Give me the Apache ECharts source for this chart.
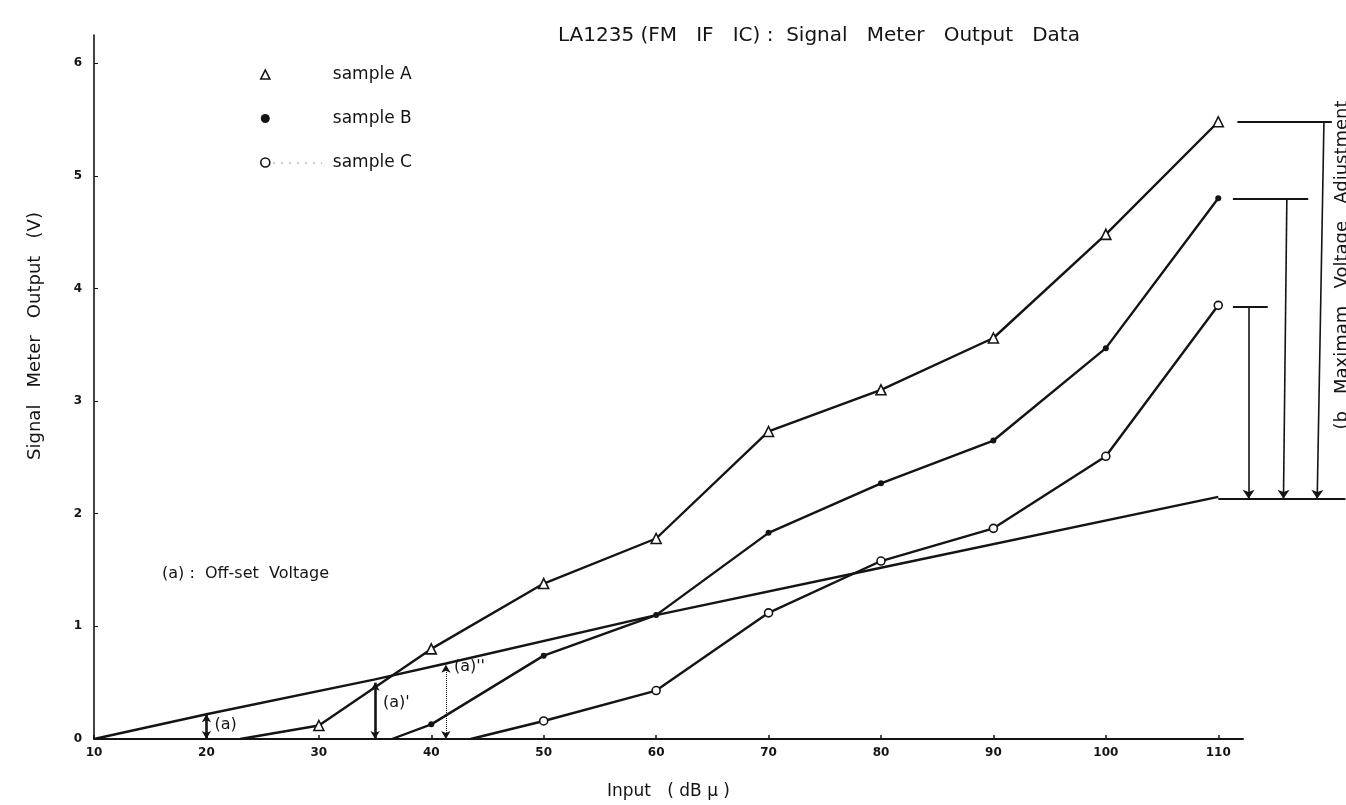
<!DOCTYPE html>
<html>
<head>
<meta charset="utf-8">
<script src="https://cdn.jsdelivr.net/npm/echarts@6/dist/echarts.min.js"></script>
<style>
  html, body { margin: 0; padding: 0; background: #fff; }
  #chart { width: 1346px; height: 805px; }
</style>
</head>
<body>
<div id="chart"></div>
<script>
// values: [input dBu, output V]
const sampleA = [[23, 0], [30, 0.12], [40, 0.8], [50, 1.38], [60, 1.78], [70, 2.73], [80, 3.1], [90, 3.56], [100, 4.48], [110, 5.48]];
const sampleB = [[36.5, 0], [40, 0.13], [50, 0.74], [60, 1.1], [70, 1.83], [80, 2.27], [90, 2.65], [100, 3.47], [110, 4.8]];
const sampleC = [[43.5, 0], [50, 0.16], [60, 0.43], [70, 1.12], [80, 1.58], [90, 1.87], [100, 2.51], [110, 3.85]];
const offsetLine = [[10, 0], [20, 0.22], [35, 0.53], [41.3, 0.67], [60, 1.1], [80, 1.52], [110, 2.15]];

// (a) arrows: x and top value, and where the label sits (fraction of height)
const offsetArrows = [[20, 0.22], [35, 0.5], [41.3, 0.66]];
const offsetNames = ['(a)', "(a)'", "(a)''"];
const offsetLabelAt = [0.5, 0.6, 0.95];

// (b) brackets: [bracket start x, bracket end x, arrow x top, arrow x bottom, level]
const maxBrackets = [
  [111.7, 120.1, 119.4, 118.8, 5.48],
  [111.3, 118.0, 116.1, 115.8, 4.8],
  [111.3, 114.4, 112.7, 112.7, 3.85]
];
const adjustLevel = 2.15;

const xTicks = { min: 10, max: 112.2, interval: 10 };
const yTicks = { min: 0, max: 6.25, interval: 1 };

const W = 1346, gridLeft = 94, gridRight = 103;
// a second, invisible x axis with the same scale that runs to the page edge,
// so the (b) brackets right of the plotted axis can be drawn in data units
const pxPerUnit = (W - gridLeft - gridRight) / (xTicks.max - xTicks.min);
const wideMax = xTicks.min + (W - gridLeft) / pxPerUnit;
const adjustLineEnd = wideMax - 0.05;

const ink = '#141414';
const font = 'DejaVu Sans';
const chart = echarts.init(document.getElementById('chart'));

function withStart(arr) {
  // first point is where the curve leaves zero, no marker there
  return arr.map((p, i) => i === 0 ? { value: p, symbol: 'none' } : p);
}

const hollow = { color: '#fff', borderColor: ink, borderWidth: 1.6 };

const option = {
  animation: false,
  backgroundColor: '#fff',
  textStyle: { fontFamily: font, color: ink },
  title: {
    text: 'LA1235 (FM   IF   IC) :  Signal   Meter   Output   Data',
    left: 553, top: 21,
    textStyle: { fontSize: 20, fontWeight: 'normal', color: ink, fontFamily: font }
  },
  legend: {
    orient: 'vertical', left: 255, top: 61,
    itemWidth: 9, itemHeight: 9, itemGap: 27,
    selectedMode: false,
    textStyle: { fontSize: 17, color: ink, padding: [0, 0, 0, 58] },
    data: [
      { name: 'sample A', icon: 'triangle', itemStyle: hollow },
      { name: 'sample B', icon: 'circle', itemStyle: { color: ink, borderWidth: 0 } },
      { name: 'sample C', icon: 'circle', itemStyle: hollow }
    ]
  },
  grid: [
    { left: gridLeft, right: gridRight, top: 35, bottom: 63 },
    { left: gridLeft, right: 0, top: 35, bottom: 63 }
  ],
  xAxis: [
    {
      type: 'value', gridIndex: 0, min: xTicks.min, max: xTicks.max, interval: xTicks.interval,
      name: 'Input   ( dB μ )', nameLocation: 'middle', nameGap: 44,
      nameTextStyle: { fontSize: 17, color: ink },
      axisLine: { lineStyle: { color: ink, width: 2 } },
      axisTick: { inside: true, length: 4, lineStyle: { color: ink, width: 1.5 } },
      axisLabel: { color: ink, fontSize: 12, fontWeight: 'bold', margin: 8, showMaxLabel: false },
      splitLine: { show: false }
    },
    { type: 'value', gridIndex: 1, min: xTicks.min, max: wideMax, show: false }
  ],
  yAxis: [
    {
      type: 'value', gridIndex: 0, min: yTicks.min, max: yTicks.max, interval: yTicks.interval,
      axisLine: { show: true, lineStyle: { color: ink, width: 1.6 } },
      axisTick: { show: true, inside: true, length: 4, lineStyle: { color: ink } },
      axisLabel: { color: ink, fontSize: 12, fontWeight: 'bold', margin: 12, showMaxLabel: false },
      splitLine: { show: false }
    },
    { type: 'value', gridIndex: 1, min: yTicks.min, max: yTicks.max, show: false }
  ],
  series: [
    {
      name: 'sample A', type: 'line', data: withStart(sampleA),
      symbol: 'triangle', symbolSize: 10, showAllSymbol: true,
      lineStyle: { color: ink, width: 2.4 }, itemStyle: hollow, z: 5
    },
    {
      name: 'sample B', type: 'line', data: withStart(sampleB),
      symbol: 'circle', symbolSize: 6,
      lineStyle: { color: ink, width: 2.4 }, itemStyle: { color: ink }, z: 5
    },
    {
      name: 'sample C', type: 'line', data: withStart(sampleC),
      symbol: 'circle', symbolSize: 8,
      lineStyle: { color: ink, width: 2.4 }, itemStyle: hollow, z: 5
    },
    {
      name: 'offset', type: 'line', data: offsetLine, symbol: 'none',
      lineStyle: { color: ink, width: 2.4 }, z: 4
    },
    {
      // (a) arrows
      name: 'offsetArrows', type: 'line', data: [],
      markLine: {
        silent: true, symbol: ['arrow', 'arrow'], symbolSize: [7, 8],
        label: { show: false },
        data: offsetArrows.map((p, i) => [
          { coord: [p[0], 0], lineStyle: { color: ink, width: i === 2 ? 1 : 2.6, type: i === 2 ? 'dotted' : 'solid' } },
          { coord: [p[0], p[1]] }
        ])
      }
    },
    {
      // (b) brackets and the horizontal adjust level
      name: 'brackets', type: 'line', data: [], xAxisIndex: 1, yAxisIndex: 1,
      markLine: {
        silent: true, symbol: ['none', 'none'],
        label: { show: false },
        lineStyle: { color: ink, width: 1.8, type: 'solid' },
        data: maxBrackets.map(b => [{ coord: [b[0], b[4]] }, { coord: [b[1], b[4]] }])
          .concat([[{ coord: [110, adjustLevel] }, { coord: [adjustLineEnd, adjustLevel] }]])
      }
    },
    {
      name: 'maxArrows', type: 'line', data: [], xAxisIndex: 1, yAxisIndex: 1,
      markLine: {
        silent: true, symbol: ['none', 'arrow'], symbolSize: 9,
        label: { show: false },
        lineStyle: { color: ink, width: 1.6, type: 'solid' },
        data: maxBrackets.map(b => [{ coord: [b[2], b[4]] }, { coord: [b[3], adjustLevel] }])
      }
    }
  ]
};
chart.setOption(option);

// text notes placed from data coordinates
const graphics = offsetNames.map((t, i) => {
  const p = offsetArrows[i];
  const px = chart.convertToPixel({ gridIndex: 0 }, [p[0], p[1] * offsetLabelAt[i]]);
  return {
    type: 'text', left: px[0] + 8, top: px[1] - 10,
    style: { text: t, font: '16px ' + font, fill: ink }
  };
});
graphics.push(
  {
    type: 'text', left: 162, top: 566,
    style: { text: '(a) :  Off-set  Voltage', font: '16px ' + font, fill: ink }
  },
  {
    type: 'text', x: 35, y: 336, rotation: Math.PI / 2,
    style: { text: 'Signal   Meter   Output   (V)', font: '18px ' + font, fill: ink, align: 'center', verticalAlign: 'middle' }
  },
  {
    type: 'text', x: 1342, y: 265, rotation: Math.PI / 2,
    style: { text: '(b   Maximam   Voltage   Adjustment', font: '18px ' + font, fill: ink, align: 'center', verticalAlign: 'middle' }
  },
  {
    type: 'line', shape: { x1: 273, y1: 163, x2: 322, y2: 163 },
    style: { stroke: '#999', lineWidth: 1, lineDash: [2, 6] }
  }
);
chart.setOption({ graphic: graphics });
</script>
</body>
</html>
